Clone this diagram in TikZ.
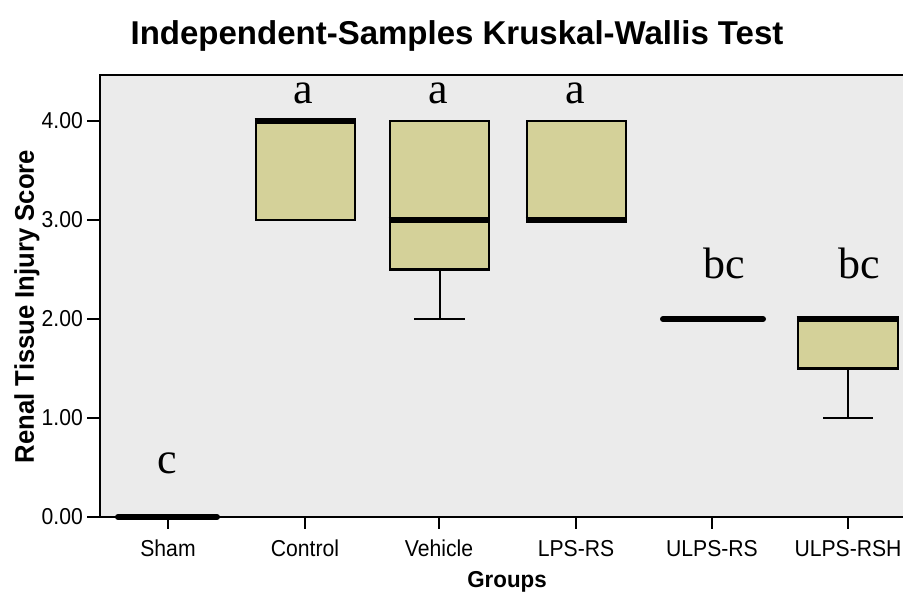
\documentclass[tikz,border=0pt]{standalone}
\usepackage{fontspec}
\setmainfont{Liberation Serif}
\newfontfamily\arialf{Liberation Sans}
\definecolor{plotbg}{HTML}{EBEBEB}
\definecolor{boxfill}{HTML}{D4D199}
\begin{document}
\begin{tikzpicture}[x=1pt,y=1pt,
  boxst/.style={draw=black, fill=boxfill, line width=2.8pt},
  medst/.style={line width=6pt},
  whisk/.style={line width=2pt},
  ticklab/.style={font=\arialf\fontsize{23}{25}\selectfont, inner sep=0pt, xscale=0.92},
  axlab/.style={font=\arialf\bfseries\fontsize{27}{29}\selectfont, inner sep=0pt},
  letterlab/.style={font=\fontsize{44}{48}\selectfont, inner sep=0pt, anchor=base},
]
\useasboundingbox (0,0) rectangle (903,-594);
\fill[white] (0,0) rectangle (903,-594);
\fill[plotbg] (100,-75) rectangle (903,-517);
\draw[line width=1.8pt] (903,-75) -- (100,-75) -- (100,-517) -- (903,-517);

% title
\node[font=\arialf\bfseries\fontsize{33}{36}\selectfont, anchor=base, inner sep=0pt] (title) at (457,-45) {Independent-Samples Kruskal-Wallis Test};

% y ticks
\foreach \v/\l in {0/0.00,1/1.00,2/2.00,3/3.00,4/4.00}{
  \draw[line width=1.8pt] (87,{-517+99*\v}) -- (100,{-517+99*\v});
  \node[ticklab, anchor=east] (yt\v) at (83,{-517+99*\v}) {\l};
}
% x ticks
\foreach \x/\l/\n in {168/Sham/a,305/Control/b,439/Vehicle/c,576/LPS-RS/d,712/ULPS-RS/e,848/ULPS-RSH/f}{
  \draw[line width=1.8pt] (\x,-517) -- (\x,-529);
  \node[ticklab, anchor=base] (xt\n) at (\x,-556) {\l};
}
\node[axlab, anchor=base, font=\arialf\bfseries\fontsize{23}{25}\selectfont, xscale=0.97] (xlab) at (507,-587) {Groups};
\node[axlab, anchor=base, rotate=90, xscale=0.95] (ylab) at (34,-306.5) {Renal Tissue Injury Score};

\begin{scope}[shift={(0,-517)}, y=99pt]
  % Sham
  \draw[medst, line cap=round] (118,0) -- (217,0);
  % Control
  \draw[boxst] (256,3) rectangle (355,4);
  \draw[medst] (254.6,4) -- (356.4,4);
  % Vehicle
  \draw[whisk] (439.5,2.5) -- (439.5,2);
  \draw[whisk] (414,2) -- (465,2);
  \draw[boxst] (390,2.5) rectangle (489,4);
  \draw[medst] (388.6,3) -- (490.4,3);
  % LPS-RS
  \draw[boxst] (527,3) rectangle (626,4);
  \draw[medst] (525.6,3) -- (627.4,3);
  % ULPS-RS
  \draw[medst, line cap=round] (663,2) -- (763,2);
  % ULPS-RSH
  \draw[whisk] (848,1.5) -- (848,1);
  \draw[whisk] (823,1) -- (873,1);
  \draw[boxst] (798,1.5) rectangle (898,2);
  \draw[medst] (796.6,2) -- (899.4,2);
\end{scope}

% significance letters
\node[letterlab] (la) at (303,-103) {a};
\node[letterlab] (lb) at (438,-103) {a};
\node[letterlab] (lc) at (575,-103) {a};
\node[letterlab] (ld) at (724,-278) {bc};
\node[letterlab] (le) at (859,-278) {bc};
\node[letterlab] (lf) at (167,-473) {c};
\end{tikzpicture}
\end{document}
